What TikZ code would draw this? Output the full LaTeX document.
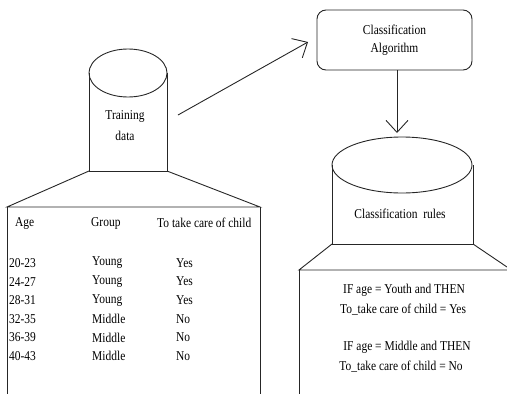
\documentclass[tikz,border=0pt]{standalone}
\usepackage{fontspec}
\setmainfont{Liberation Serif}[FakeStretch=0.85]
\usetikzlibrary{arrows.meta}
\begin{document}
\begin{tikzpicture}[x=1pt,y=-1pt,
  line/.style={draw=black!85,line width=0.9pt},
  conn/.style={line,-{Straight Barb[length=12pt,width=22pt,line width=0.9pt]}},
  txt/.style={inner sep=0pt,font=\fontsize{13.5}{15}\selectfont},
  cell/.style={txt,anchor=west}]
\useasboundingbox (0,0) rectangle (507,394);
% training data cylinder
\draw[line] (128,73) ellipse [x radius=39,y radius=24];
\draw[line] (89,73) -- (89,171) -- (167,171) -- (167,73);
\node[txt] (tr1) at (125,116) {Training};
\node[txt] (tr2) at (125,136) {data};
% table box
\draw[line] (89,171) -- (7,207) -- (260,207) -- (167,171);
\draw[line] (7,207) -- (7,394);
\draw[line] (260,207) -- (260,394);
\node[cell] (hAge) at (15,223) {Age};
\node[cell] (hGroup) at (91,223) {Group};
\node[cell] (hCare) at (157,223) {To take care of child};
\foreach \a/\g/\c [count=\i from 0] in {20-23/Young/Yes,24-27/Young/Yes,28-31/Young/Yes,32-35/Middle/No,36-39/Middle/No,40-43/Middle/No}{
  \node[cell] (a\i) at (9,263+18.6*\i) {\a};
  \node[cell] (g\i) at (92,263+18.6*\i) {\g};
  \node[cell] (c\i) at (176,263+18.6*\i) {\c};
}
% algorithm box
\node[line,rounded corners=9pt,minimum width=155pt,minimum height=60pt,txt,align=center] (alg) at (394.5,40) {Classification\\[3pt]Algorithm};
% rules cylinder
\draw[line] (402,165) ellipse [x radius=70,y radius=28];
\draw[line] (332,165) -- (332,244) -- (473,244) -- (473,165);
\node[txt] (rules) at (400,214) {Classification\ \ rules};
\draw[line] (332,244) -- (299,270) -- (507,270);
\draw[line] (473,244) -- (507,267);
\draw[line] (299,270) -- (299,394);
\node[txt] (r1) at (404,290) {IF age = Youth and THEN};
\node[txt] (r2) at (403,310) {To\_take care of child = Yes};
\node[txt] (r3) at (407,347) {IF age = Middle and THEN};
\node[txt] (r4) at (401,367) {To\_take care of child = No};
% connectors
\coordinate (s1) at (178,115);
\coordinate (e1) at (308,42);
\coordinate (e2) at (397,133);
\draw[conn] (s1) -- (e1);
\draw[conn] (alg.south -| e2) -- (e2);
\end{tikzpicture}
\end{document}
